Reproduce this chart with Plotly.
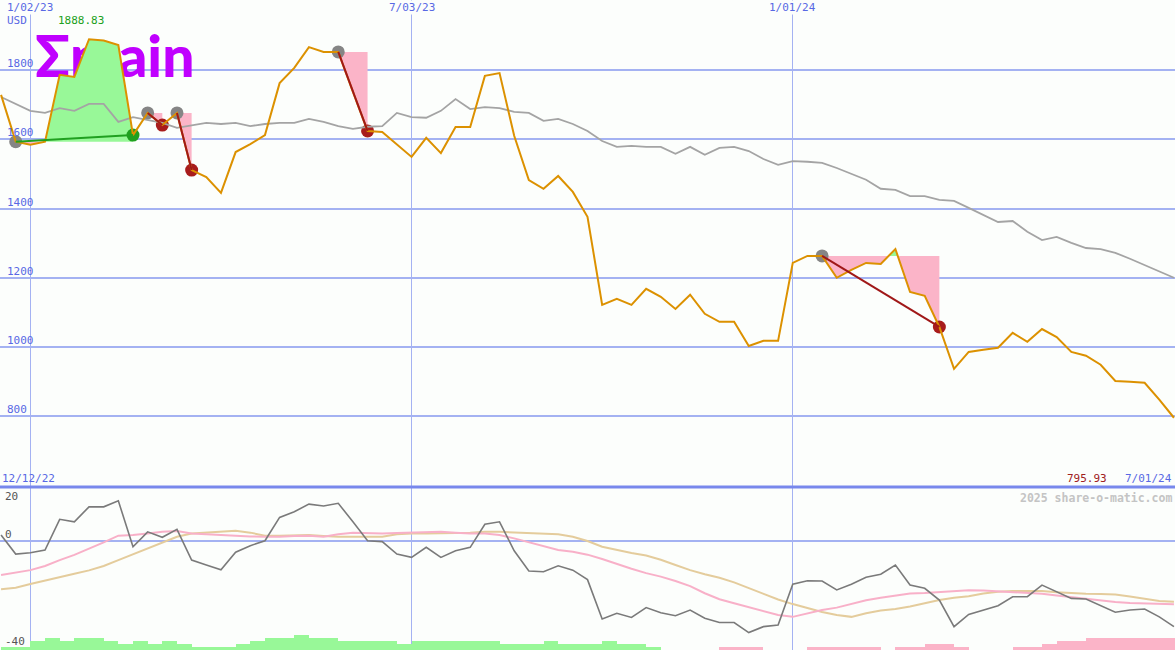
import numpy as np
import pandas as pd
import plotly.graph_objects as go

# ---------------- data ----------------
dates = pd.date_range("2022-12-19", periods=81, freq="7D")

price = [
    1728, 1593, 1584, 1593, 1786, 1780, 1888.83, 1885, 1872, 1612,
    1676, 1641, 1676, 1511, 1491, 1445, 1563, 1586, 1612, 1762,
    1806, 1866, 1852, 1852, 1737, 1624, 1621, 1584, 1549, 1604,
    1560, 1635, 1635, 1783, 1791, 1610, 1482, 1457, 1494, 1448,
    1376, 1122, 1139, 1122, 1168, 1145, 1110, 1151, 1096, 1073,
    1073, 1003, 1018, 1018, 1243, 1263, 1263, 1200, 1223, 1243,
    1240, 1283, 1159, 1148, 1058, 937, 986, 992, 998, 1041,
    1015, 1052, 1029, 986, 975, 949, 902, 900, 897, 848,
    795.93,
]

benchmark = [
    1722, 1702, 1682, 1676, 1690, 1682, 1702, 1702, 1650, 1664,
    1656, 1647, 1633, 1641, 1647, 1644, 1647, 1638, 1644, 1647,
    1647, 1659, 1650, 1638, 1630, 1636, 1638, 1676, 1664, 1662,
    1682, 1716, 1687, 1693, 1690, 1679, 1676, 1653, 1659, 1644,
    1624, 1595, 1578, 1581, 1578, 1578, 1558, 1578, 1555, 1575,
    1578, 1566, 1543, 1526, 1537, 1535, 1532, 1517, 1500, 1483,
    1457, 1454, 1436, 1436, 1425, 1422, 1402, 1382, 1361, 1364,
    1333, 1309, 1318, 1301, 1286, 1283, 1272, 1255, 1237, 1217,
    1200,
]

momentum = [
    2.3, -4.7, -4.2, -3.2, 8.1, 7.2, 12.7, 12.7, 14.9, -2.0,
    3.5, 1.5, 4.4, -6.9, -8.7, -10.5, -4.0, -1.6, 0.2, 8.8,
    10.9, 13.7, 13.0, 14.0, 7.2, 0.2, -0.1, -4.7, -5.9, -2.2,
    -5.9, -3.5, -2.2, 6.3, 7.2, -3.5, -10.9, -11.2, -9.0, -10.6,
    -14.1, -28.6, -26.5, -28.0, -24.4, -26.3, -27.4, -25.3, -28.3, -29.9,
    -29.9, -33.6, -31.4, -30.8, -15.8, -14.5, -14.6, -17.9, -15.8, -13.2,
    -12.1, -8.7, -16.1, -17.3, -21.6, -31.4, -26.9, -25.3, -23.7, -20.4,
    -20.4, -16.1, -18.5, -21.0, -21.2, -23.7, -26.1, -25.3, -24.9, -27.8,
    -31.4,
]

momentum_fast = [
    -12.4, -11.4, -10.6, -9.1, -6.9, -5.0, -2.8, -0.4, 2.1, 2.3,
    2.9, 3.5, 3.8, 2.9, 2.6, 2.3, 2.1, 1.8, 1.7, 1.7,
    2.0, 2.1, 1.7, 2.6, 3.2, 3.1, 2.9, 3.1, 3.2, 3.5,
    3.5, 3.2, 2.9, 2.9, 2.3, 1.1, -0.4, -1.7, -3.2, -3.8,
    -4.9, -6.5, -8.4, -10.1, -11.7, -13.0, -14.6, -16.5, -19.1, -21.3,
    -22.8, -24.2, -25.7, -27.1, -27.8, -26.5, -25.3, -24.4, -23.0, -21.7,
    -20.8, -19.9, -19.2, -19.0, -18.6, -18.3, -18.0, -18.1, -18.4, -18.8,
    -19.0, -19.3, -19.9, -20.5, -21.1, -21.8, -22.3, -22.7, -22.9, -23.1,
    -23.2,
]

momentum_slow = [
    -17.6, -17.1, -15.7, -14.4, -13.0, -11.9, -10.7, -9.1, -6.9, -4.8,
    -2.6, -0.4, 1.7, 2.9, 3.3, 3.5, 3.9, 3.2, 2.1, 2.1,
    2.2, 2.3, 2.0, 1.7, 1.7, 1.7, 1.7, 2.6, 2.9, 2.9,
    2.9, 3.1, 3.2, 3.5, 3.5, 3.3, 3.2, 2.9, 2.6, 1.7,
    0.1, -2.0, -3.2, -4.3, -5.2, -6.8, -8.7, -10.6, -12.1, -13.4,
    -15.1, -17.2, -19.4, -21.4, -23.1, -24.5, -26.0, -27.1, -27.8, -26.5,
    -25.5, -24.9, -24.0, -22.8, -21.6, -20.8, -20.2, -19.2, -18.6, -18.3,
    -18.2, -18.3, -18.7, -19.1, -19.3, -19.4, -19.6, -20.3, -21.1, -22.0,
    -22.2,
]

trend_bars = [
    1.1, 1.1, 3.3, 4.4, 3.3, 4.4, 4.4, 3.3, 2.2, 3.3,
    2.2, 3.3, 2.2, 1.1, 1.1, 1.1, 2.2, 3.3, 4.4, 4.4,
    5.5, 4.4, 4.4, 3.3, 3.3, 3.3, 3.3, 2.2, 3.3, 3.3,
    3.3, 3.3, 3.3, 3.3, 2.2, 2.2, 2.2, 3.3, 2.2, 2.2,
    2.2, 3.3, 2.2, 2.2, 1.1, 0, 0, 0, 0, -1.1,
    -1.1, -1.1, 0, 0, 0, -1.1, -1.1, -1.1, -1.1, -1.1,
    0, -1.1, -1.1, -2.2, -2.2, -1.1, 0, 0, 0, -1.1,
    -1.1, -2.2, -3.3, -3.3, -4.4, -4.4, -4.4, -4.4, -4.4, -4.4,
    -4.4,
]

trade_entries = ["2022-12-26", "2023-02-27", "2023-03-13", "2023-05-29", "2024-01-15"]
trade_exits = ["2023-02-20", "2023-03-06", "2023-03-20", "2023-06-12", "2024-03-11"]

price_ticks = [800, 1000, 1200, 1400, 1600, 1800]
date_ticks = ["2023-01-02", "2023-07-03", "2024-01-01"]
date_tick_text = ["1/02/23", "7/03/23", "1/01/24"]

# ---------------- style ----------------
BG = "#fcfefc"
GRID = "#a4b2f2"
BLUE_TXT = "#5868e4"
ORANGE = "#dc9100"
GRAY = "#a4a4a4"
GREEN_FILL = "#98f898"
PINK_FILL = "#fbb4c8"
GREEN_DOT = "#20a020"
RED_DOT = "#a81c1c"
MONO = "DejaVu Sans Mono"
SPLIT = 1 - 487 / 650

fig = go.Figure()

# logo text (drawn first so the fills cover it)
fig.add_trace(go.Scatter(
    x=[pd.Timestamp("2023-01-04 06:00")], y=[1820], mode="text", text=["Σmain"],
    textposition="middle right", cliponaxis=False, yaxis="y2", hoverinfo="skip",
    textfont=dict(family="Lato", size=57, color="#c000ff", weight=900),
))

# trade fills
t_ns = dates.values.astype("datetime64[ns]").astype(np.int64)
date_index = {d: i for i, d in enumerate(dates)}
for e, x in zip(trade_entries, trade_exits):
    i0, i1 = date_index[pd.Timestamp(e)], date_index[pd.Timestamp(x)]
    L = price[i0]
    xs, ys = [], []
    for i in range(i0, i1):
        xs.append(t_ns[i]); ys.append(price[i])
        a, b = price[i] - L, price[i + 1] - L
        if a * b < 0:
            xs.append(int(t_ns[i] + (t_ns[i + 1] - t_ns[i]) * (-a) / (b - a)))
            ys.append(L)
    xs.append(t_ns[i1]); ys.append(price[i1])
    for side, col in ((max, GREEN_FILL), (min, PINK_FILL)):
        py = [side(v, L) for v in ys] + [L, L]
        px = pd.to_datetime(xs + [xs[-1], xs[0]])
        fig.add_trace(go.Scatter(x=px, y=py, fill="toself", fillcolor=col, mode="lines",
                                 line=dict(width=0), yaxis="y2", hoverinfo="skip"))

# trade dots
for e, x in zip(trade_entries, trade_exits):
    i0, i1 = date_index[pd.Timestamp(e)], date_index[pd.Timestamp(x)]
    win = price[i1] > price[i0]
    fig.add_trace(go.Scatter(x=[dates[i0], dates[i1]], y=[price[i0], price[i1]], mode="markers",
                             marker=dict(size=13, color=["#858585", GREEN_DOT if win else RED_DOT]),
                             yaxis="y2", hoverinfo="skip"))

# benchmark and price
fig.add_trace(go.Scatter(x=dates, y=benchmark, mode="lines", line=dict(color=GRAY, width=1.8),
                         yaxis="y2", hoverinfo="skip"))
fig.add_trace(go.Scatter(x=dates, y=price, mode="lines", line=dict(color=ORANGE, width=2),
                         yaxis="y2", hoverinfo="skip"))

# trade lines
for e, x in zip(trade_entries, trade_exits):
    i0, i1 = date_index[pd.Timestamp(e)], date_index[pd.Timestamp(x)]
    win = price[i1] > price[i0]
    fig.add_trace(go.Scatter(x=[dates[i0], dates[i1]], y=[price[i0], price[i1]], mode="lines",
                             line=dict(color=GREEN_DOT if win else "#a01818", width=2),
                             yaxis="y2", hoverinfo="skip"))

# lower panel
fig.add_trace(go.Bar(
    x=dates + pd.Timedelta(days=3.5), y=[abs(v) for v in trend_bars], base=-40,
    width=7 * 86400000, marker=dict(color=[GREEN_FILL if v > 0 else PINK_FILL for v in trend_bars],
                                    line=dict(width=0)), yaxis="y", hoverinfo="skip"))
fig.add_trace(go.Scatter(x=dates, y=momentum_slow, mode="lines", line=dict(color="#e4cc9c", width=2),
                         yaxis="y", hoverinfo="skip"))
fig.add_trace(go.Scatter(x=dates, y=momentum_fast, mode="lines", line=dict(color="#f8b0c8", width=2),
                         yaxis="y", hoverinfo="skip"))
fig.add_trace(go.Scatter(x=dates, y=momentum, mode="lines", line=dict(color="#7a7a7a", width=1.6),
                         yaxis="y", hoverinfo="skip"))

# ---------------- annotations ----------------
ann = []
def label(text, x, y, xref, yref, color, xanchor="left", yanchor="bottom", size=11, bold=False,
          bg=None, yshift=0):
    ann.append(dict(text=f"<b>{text}</b>" if bold else text, x=x, y=y, xref=xref, yref=yref,
                    showarrow=False, xanchor=xanchor, yanchor=yanchor, borderpad=0, yshift=yshift,
                    bgcolor=bg, font=dict(family=MONO, size=size, color=color)))

for v in price_ticks:
    label(str(v), 6 / 1175, v, "paper", "y2", BLUE_TXT, yshift=-1)
for d, txt in zip(date_ticks, date_tick_text):
    label(txt, d, 1.0, "x", "paper", BLUE_TXT, xanchor="center", yanchor="top", bg=BG)
label("USD", 6 / 1175, 1 - 13 / 650, "paper", "paper", BLUE_TXT, yanchor="top")
label(f"{max(price):.2f}", 57 / 1175, 1 - 13 / 650, "paper", "paper", GREEN_DOT, yanchor="top")
label("12/12/22", 1 / 1175, SPLIT + 1 / 650, "paper", "paper", BLUE_TXT)
label(f"{price[-1]:.2f}", 1066 / 1175, SPLIT + 1 / 650, "paper", "paper", "#a02020")
label("7/01/24", 1173 / 1175, SPLIT + 1 / 650, "paper", "paper", BLUE_TXT, xanchor="right")
label("2025 share-o-matic.com", 1173 / 1175, SPLIT - 3 / 650, "paper", "paper", "#c4c4c4",
      xanchor="right", yanchor="top", size=11.5, bold=True)
label("20", 4 / 1175, 20, "paper", "y", "#555555", yanchor="top", yshift=-2)
label("0", 4 / 1175, 0, "paper", "y", "#555555", yshift=-1)
label("-40", 4 / 1175, -40, "paper", "y", "#555555", yanchor="bottom", yshift=1)

fig.update_layout(
    width=1175, height=650, margin=dict(l=0, r=0, t=0, b=0),
    paper_bgcolor=BG, plot_bgcolor=BG, showlegend=False, bargap=0,
    xaxis=dict(range=["2022-12-18 12:00", "2024-07-01 12:00"], tickvals=date_ticks,
               showticklabels=False, showgrid=True, gridcolor=GRID, gridwidth=1,
               zeroline=False, showline=False, ticks=""),
    yaxis=dict(domain=[0, SPLIT], range=[-40, 20], tickvals=[0], showticklabels=False,
               showgrid=True, gridcolor=GRID, gridwidth=2, zeroline=False, ticks=""),
    yaxis2=dict(domain=[SPLIT, 1], range=[596, 2002], tickvals=price_ticks, showticklabels=False,
                showgrid=True, gridcolor=GRID, gridwidth=2, zeroline=False, ticks=""),
    annotations=ann,
    shapes=[dict(type="line", xref="paper", yref="paper", x0=0, x1=1, y0=SPLIT, y1=SPLIT,
                 line=dict(color="#7888ec", width=3))],
)

fig.write_html("out.html", config={"displayModeBar": False},
               post_script="document.body.style.margin='0';document.body.style.overflow='hidden';")
